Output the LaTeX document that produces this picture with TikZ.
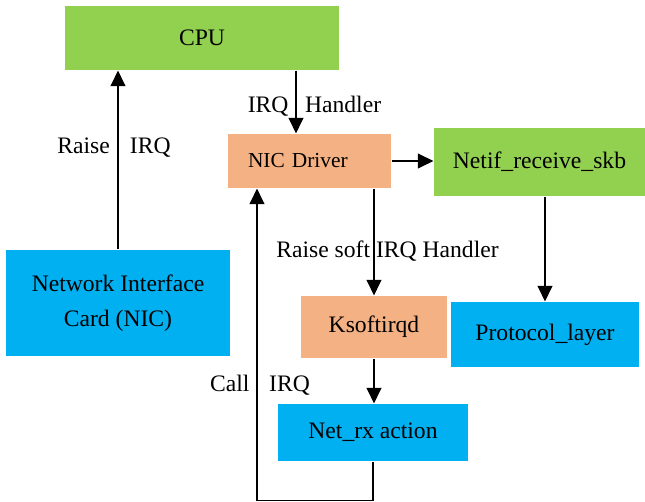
\documentclass[tikz,border=0pt]{standalone}
\usepackage{fontspec}
\setmainfont{Liberation Serif}
\usetikzlibrary{arrows.meta}

\definecolor{boxgreen}{HTML}{92D050}
\definecolor{boxorange}{HTML}{F4B183}
\definecolor{boxblue}{HTML}{00B0F0}

\begin{document}
\begin{tikzpicture}[line width=0.8pt, font=\fontsize{16.8}{20}\selectfont,
    blk/.style={rectangle, inner sep=0pt, align=center},
    arr/.style={-{Triangle[length=11pt,width=10.5pt]}}]
    \useasboundingbox (0,0) rectangle (16.125,12.55);
    % blocos
    \node[blk, fill=boxgreen, minimum width=6.85cm, minimum height=1.6cm] (cpu) at (5.05,11.6) {CPU};
    \node[blk, fill=boxorange, font=\fontsize{15.2}{18}\selectfont, align=left, text width=3.075cm,
          inner xsep=0.5cm, minimum height=1.35cm] (drv) at (7.7375,8.525) {NIC Driver};
    \node[blk, fill=boxgreen, minimum width=5.275cm, minimum height=1.7cm] (netif) at (13.4875,8.5) {Netif\_receive\_skb};
    \node[blk, fill=boxblue, font=\fontsize{16.8}{25}\selectfont, minimum width=5.6cm,
          minimum height=2.65cm] (card) at (2.95,4.975) {Network Interface\\Card (NIC)};
    \node[blk, fill=boxorange, minimum width=3.65cm, minimum height=1.55cm] (ksoft) at (9.35,4.375) {Ksoftirqd};
    \node[blk, fill=boxblue, minimum width=4.7cm, minimum height=1.625cm] (proto) at (13.625,4.1875) {Protocol\_layer};
    \node[blk, fill=boxblue, minimum width=4.75cm, minimum height=1.425cm] (netrx) at (9.325,1.7375) {Net\_rx action};
    % ligacoes
    \coordinate (irq) at ([xshift=-0.3375cm]drv.north);
    \coordinate (call) at ([xshift=-1.3125cm]drv.south);
    \draw[arr] (card.north) -- (card.north |- cpu.south);
    \draw[arr] (irq |- cpu.south) -- (irq);
    \draw[arr] (drv.east) -- (drv.east -| netif.west);
    \draw[arr] (drv.south -| ksoft.north) -- (ksoft.north);
    \draw[arr] (netif.south -| proto.north) -- (proto.north);
    \draw[arr] (ksoft.south) -- (ksoft.south |- netrx.north);
    \draw[arr] (netrx.south) -- ++(0,-0.975) -| (call);
    % rotulos
    \node (lraise) at (2.85,8.85) {Raise\hspace{0.85em}IRQ};
    \node (lhandler) at (7.8625,9.9) {IRQ\hspace{0.7em}Handler};
    \node (lsoft) at (9.6875,6.275) {Raise soft IRQ Handler};
    \node (lcall) at (6.5,2.925) {Call\hspace{0.83em}IRQ};
\end{tikzpicture}
\end{document}
